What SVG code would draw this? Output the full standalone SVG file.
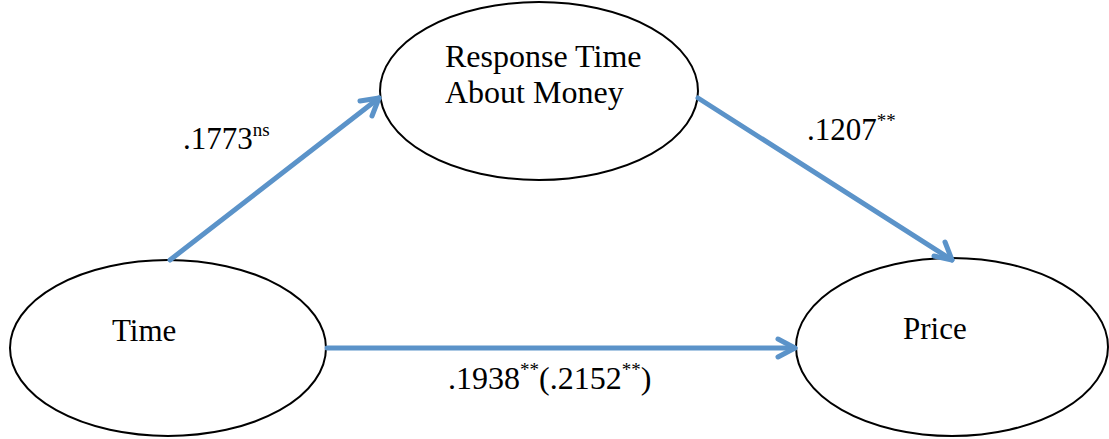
<svg xmlns="http://www.w3.org/2000/svg" width="1109" height="439" viewBox="0 0 1109 439">
<style>
.node{fill:#fff;stroke:#000;stroke-width:2}
text{font-family:'Liberation Serif','Times New Roman',serif;font-size:31px;fill:#000}
.big{font-size:32px}
.sup{font-size:19px}
.conn{stroke:#5b93c9;stroke-width:5;fill:none;stroke-linecap:round}
.head{stroke:#5b93c9;stroke-width:5;fill:none;stroke-linecap:round;stroke-linejoin:round}
</style>
<rect width="1109" height="439" fill="#fff"/>
<g id="node-time">
<ellipse class="node" cx="168" cy="348" rx="158" ry="88"/>
<text x="112" y="341">Time</text>
</g>
<g id="node-response">
<ellipse class="node" cx="539" cy="91" rx="159" ry="89"/>
<text class="big" x="445" y="67">Response Time</text>
<text class="big" x="445" y="103">About Money</text>
</g>
<g id="node-price">
<ellipse class="node" cx="952" cy="347" rx="156" ry="89"/>
<text x="903" y="339">Price</text>
</g>
<g id="connectors">
<line class="conn" x1="170" y1="260" x2="379" y2="98"/>
<polyline class="head" points="360,101 379,98 372,116"/>
<line class="conn" x1="698" y1="98" x2="952" y2="260"/>
<polyline class="head" points="934,256 952,260 945,242"/>
<line class="conn" x1="327" y1="348" x2="795" y2="348"/>
<polyline class="head" points="778,339 795,348 778,357"/>
</g>
<g id="labels">
<text x="183" y="149">.1773<tspan class="sup" dy="-13">ns</tspan></text>
<text x="807" y="140">.1207<tspan class="sup" dy="-13">**</tspan></text>
<text class="big" x="448" y="389">.1938<tspan class="sup" dy="-13">**</tspan><tspan dy="13">(.2152</tspan><tspan class="sup" dy="-13">**</tspan><tspan dy="13">)</tspan></text>
</g>
</svg>
